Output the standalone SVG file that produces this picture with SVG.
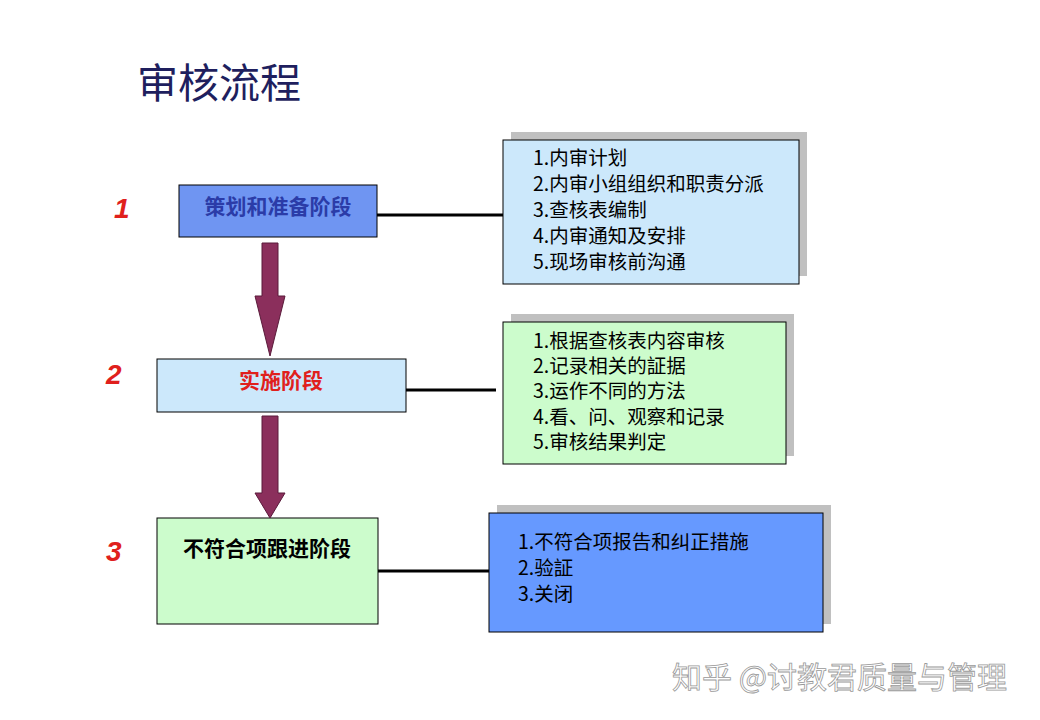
<svg xmlns="http://www.w3.org/2000/svg" width="1040" height="720" viewBox="0 0 1040 720">
<style>
text{font-family:"Noto Sans CJK SC","Liberation Sans",sans-serif}
.box{stroke:#000;stroke-width:1}
.sh{fill:#c0c0c0}
.num{font-family:"Liberation Sans",sans-serif;font-style:italic;font-weight:bold;font-size:28px;fill:#e0201c}
.lst{font-size:19.5px;fill:#000}
.lbl{font-size:21px;font-weight:bold}
.arr{fill:#8b2f5c;stroke:#5a1a3a;stroke-width:1}
</style>
<rect width="1040" height="720" fill="#fff"/>
<text x="137" y="98" font-size="41" fill="#1f1f5e">审核流程</text>
<g id="n1">
<text class="num" x="114" y="218">1</text>
<rect class="box" x="179" y="185" width="198" height="52" fill="#6f95f2"/>
<text class="lbl" x="278" y="214" text-anchor="middle" fill="#2b3ca8">策划和准备阶段</text>
</g>
<g id="n2">
<text class="num" x="106" y="384">2</text>
<rect class="box" x="157" y="359" width="249" height="53" fill="#cce8fb"/>
<text class="lbl" x="281" y="388" text-anchor="middle" fill="#e0201c">实施阶段</text>
</g>
<g id="n3">
<text class="num" x="106" y="561">3</text>
<rect class="box" x="157" y="518" width="221" height="106" fill="#ccfccc"/>
<text class="lbl" x="267" y="556" text-anchor="middle" fill="#000">不符合项跟进阶段</text>
</g>
<g id="d1">
<rect class="sh" x="511" y="132" width="296" height="144"/>
<rect class="box" x="503" y="140" width="296" height="144" fill="#cce8fb"/>
<text class="lst" x="533" y="165">1.内审计划</text>
<text class="lst" x="533" y="191">2.内审小组组织和职责分派</text>
<text class="lst" x="533" y="217">3.查核表编制</text>
<text class="lst" x="533" y="243">4.内审通知及安排</text>
<text class="lst" x="533" y="269">5.现场审核前沟通</text>
</g>
<g id="d2">
<rect class="sh" x="511" y="314" width="283" height="142"/>
<rect class="box" x="503" y="322" width="283" height="142" fill="#ccfccc"/>
<text class="lst" x="533" y="348">1.根据查核表内容审核</text>
<text class="lst" x="533" y="373">2.记录相关的証据</text>
<text class="lst" x="533" y="398">3.运作不同的方法</text>
<text class="lst" x="533" y="424">4.看、问、观察和记录</text>
<text class="lst" x="533" y="449">5.审核结果判定</text>
</g>
<g id="d3">
<rect class="sh" x="497" y="505" width="334" height="119"/>
<rect class="box" x="489" y="513" width="334" height="119" fill="#6699ff"/>
<text class="lst" x="518" y="549">1.不符合项报告和纠正措施</text>
<text class="lst" x="518" y="575">2.验証</text>
<text class="lst" x="518" y="601">3.关闭</text>
</g>
<g id="connectors">
<line x1="377" y1="215" x2="503" y2="215" stroke="#000" stroke-width="3"/>
<line x1="406" y1="390" x2="496" y2="390" stroke="#000" stroke-width="3"/>
<line x1="378" y1="571" x2="489" y2="571" stroke="#000" stroke-width="3"/>
<polygon class="arr" points="262,243 278,243 278,296 285,296 270,356 255,296 262,296"/>
<polygon class="arr" points="262,416 278,416 278,493 285,493 270,518 255,493 262,493"/>
</g>
<text x="672" y="688" font-size="30" fill="#fff" stroke="#999" stroke-width="0.8">知乎 @讨教君质量与管理</text>
</svg>
